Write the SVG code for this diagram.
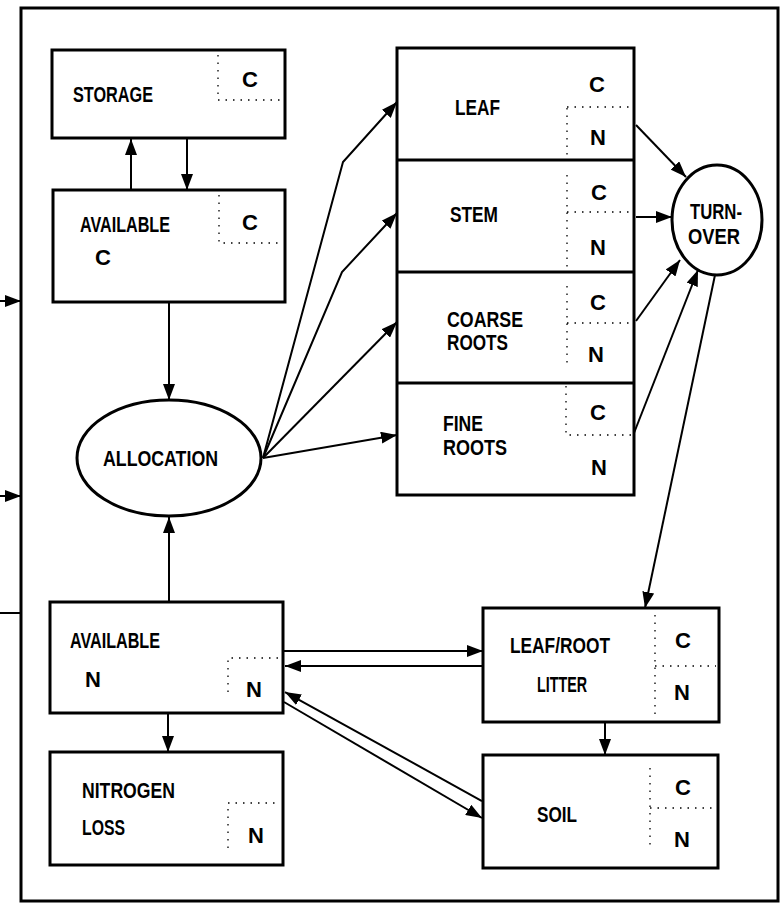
<svg xmlns="http://www.w3.org/2000/svg" width="783" height="906" viewBox="0 0 783 906">
<defs>
<style>
.box{fill:#fff;stroke:#000;stroke-width:3}
.frame{fill:none;stroke:#000;stroke-width:3}
.dot{fill:none;stroke:#000;stroke-width:1.3;stroke-dasharray:1.5 6}
.con{fill:none;stroke:#000;stroke-width:2}
.arr{marker-end:url(#ah)}
text{font-family:"Liberation Sans",Arial,sans-serif;font-size:22px;font-weight:bold;fill:#000}
.m{text-anchor:middle}
</style>
<marker id="ah" markerUnits="userSpaceOnUse" markerWidth="16" markerHeight="12" refX="16" refY="6" orient="auto" viewBox="0 0 16 12">
<path d="M0,0 L16,6 L0,12 z" fill="#000"/>
</marker>
</defs>
<rect x="0" y="0" width="783" height="906" fill="#fff"/>
<rect class="frame" x="21" y="8" width="757" height="893"/>

<g id="connectors">
<line class="con arr" x1="0" y1="301" x2="21" y2="301"/>
<line class="con arr" x1="0" y1="496" x2="21" y2="496"/>
<line class="con" x1="0" y1="613" x2="21" y2="613"/>
<line class="con arr" x1="131" y1="190" x2="131" y2="139"/>
<line class="con arr" x1="187" y1="139" x2="187" y2="190"/>
<line class="con arr" x1="169" y1="302" x2="169" y2="400"/>
<line class="con arr" x1="169" y1="602" x2="169" y2="517"/>
<polyline class="con arr" points="263,458 343,162 397,102"/>
<polyline class="con arr" points="263,458 342,272 397,213"/>
<line class="con arr" x1="263" y1="458" x2="397" y2="322"/>
<line class="con arr" x1="263" y1="458" x2="397" y2="435"/>
<line class="con arr" x1="636" y1="125" x2="686" y2="177"/>
<line class="con arr" x1="636" y1="217" x2="672" y2="217"/>
<line class="con arr" x1="636" y1="321" x2="680" y2="260"/>
<line class="con arr" x1="634" y1="433" x2="698" y2="270"/>
<line class="con arr" x1="715" y1="275" x2="645" y2="608"/>
<line class="con arr" x1="168" y1="713" x2="168" y2="752"/>
<line class="con arr" x1="605" y1="722" x2="605" y2="755"/>
<line class="con arr" x1="284" y1="651" x2="483" y2="651"/>
<line class="con arr" x1="483" y1="666" x2="285" y2="666"/>
<line class="con arr" x1="482" y1="801" x2="285" y2="692"/>
<line class="con arr" x1="284" y1="702" x2="482" y2="818"/>
</g>

<g id="storage">
<rect class="box" x="52" y="50" width="233" height="88"/>
<path class="dot" d="M218,55 V100 H282"/>
<text x="73" y="102" textLength="80" lengthAdjust="spacingAndGlyphs">STORAGE</text>
<text class="m" x="250" y="87">C</text>
</g>

<g id="available-c">
<rect class="box" x="53" y="190" width="232" height="112"/>
<path class="dot" d="M219,195 V243 H282"/>
<text x="80" y="232" textLength="90" lengthAdjust="spacingAndGlyphs">AVAILABLE</text>
<text class="m" x="250" y="230">C</text>
<text class="m" x="103" y="265">C</text>
</g>

<g id="allocation">
<ellipse class="box" cx="169" cy="458" rx="92" ry="58"/>
<text x="103" y="466" textLength="115" lengthAdjust="spacingAndGlyphs">ALLOCATION</text>
</g>

<g id="plant">
<rect class="box" x="397" y="48" width="237" height="447"/>
<line class="box" x1="397" y1="160" x2="634" y2="160"/>
<line class="box" x1="397" y1="272" x2="634" y2="272"/>
<line class="box" x1="397" y1="383" x2="634" y2="383"/>
<g id="leaf">
<path class="dot" d="M567,108 V158 M567,107 H632"/>
<text x="455" y="115" textLength="45" lengthAdjust="spacingAndGlyphs">LEAF</text>
<text class="m" x="597" y="92">C</text>
<text class="m" x="598" y="145">N</text>
</g>
<g id="stem">
<path class="dot" d="M567,175 V268 M567,212 H632"/>
<text x="450" y="222" textLength="48" lengthAdjust="spacingAndGlyphs">STEM</text>
<text class="m" x="599" y="200">C</text>
<text class="m" x="598" y="255">N</text>
</g>
<g id="coarse-roots">
<path class="dot" d="M567,286 V365 M567,323 H632"/>
<text x="447" y="327" textLength="76" lengthAdjust="spacingAndGlyphs">COARSE</text>
<text x="447" y="350" textLength="61" lengthAdjust="spacingAndGlyphs">ROOTS</text>
<text class="m" x="598" y="310">C</text>
<text class="m" x="596" y="362">N</text>
</g>
<g id="fine-roots">
<path class="dot" d="M566,386 V435 H632"/>
<text x="443" y="431" textLength="40" lengthAdjust="spacingAndGlyphs">FINE</text>
<text x="443" y="455" textLength="64" lengthAdjust="spacingAndGlyphs">ROOTS</text>
<text class="m" x="598" y="420">C</text>
<text class="m" x="599" y="475">N</text>
</g>
</g>

<g id="turnover">
<ellipse class="box" cx="717" cy="220" rx="45" ry="55"/>
<text class="m" x="716" y="219" textLength="52" lengthAdjust="spacingAndGlyphs">TURN-</text>
<text class="m" x="714" y="244" textLength="52" lengthAdjust="spacingAndGlyphs">OVER</text>
</g>

<g id="available-n">
<rect class="box" x="50" y="602" width="233" height="111"/>
<path class="dot" d="M228,692 V658 H280"/>
<text x="70" y="648" textLength="90" lengthAdjust="spacingAndGlyphs">AVAILABLE</text>
<text class="m" x="93" y="687">N</text>
<text class="m" x="254" y="697">N</text>
</g>

<g id="nitrogen-loss">
<rect class="box" x="50" y="752" width="233" height="113"/>
<path class="dot" d="M228,848 V803 H280"/>
<text x="82" y="798" textLength="93" lengthAdjust="spacingAndGlyphs">NITROGEN</text>
<text x="82" y="835" textLength="43" lengthAdjust="spacingAndGlyphs">LOSS</text>
<text class="m" x="256" y="843">N</text>
</g>

<g id="litter">
<rect class="box" x="483" y="608" width="236" height="114"/>
<path class="dot" d="M655,615 V718 M655,666 H716"/>
<text x="510" y="653" textLength="100" lengthAdjust="spacingAndGlyphs">LEAF/ROOT</text>
<text x="537" y="692" textLength="50" lengthAdjust="spacingAndGlyphs">LITTER</text>
<text class="m" x="683" y="648">C</text>
<text class="m" x="682" y="700">N</text>
</g>

<g id="soil">
<rect class="box" x="483" y="755" width="235" height="113"/>
<path class="dot" d="M650,768 V850 M650,808 H715"/>
<text x="537" y="822" textLength="40" lengthAdjust="spacingAndGlyphs">SOIL</text>
<text class="m" x="683" y="795">C</text>
<text class="m" x="682" y="847">N</text>
</g>
</svg>
